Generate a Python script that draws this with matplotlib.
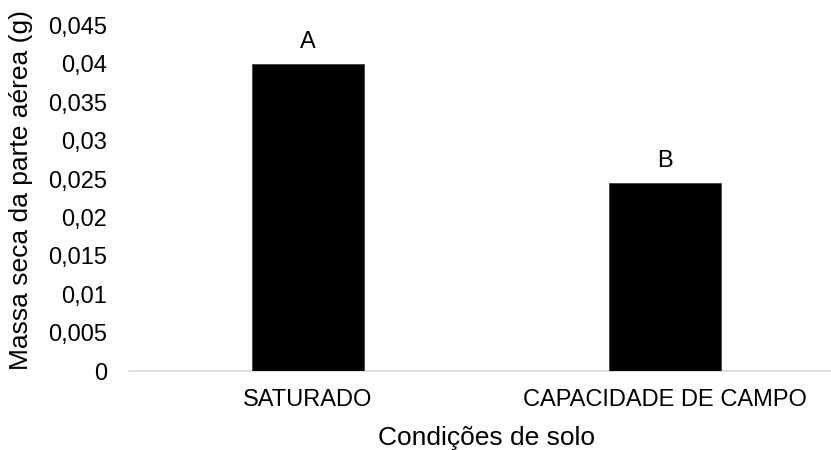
import matplotlib
matplotlib.use("Agg")
import matplotlib.pyplot as plt
from matplotlib.ticker import FuncFormatter

plt.rcParams['font.family'] = ['Liberation Sans', 'DejaVu Sans']

# Dados: massa seca da parte aérea por condição de solo
condicoes = ["SATURADO", "CAPACIDADE DE CAMPO"]
massa_seca = [0.04, 0.0245]
letras = ["A", "B"]
y_ticks = [0, 0.005, 0.01, 0.015, 0.02, 0.025, 0.03, 0.035, 0.04, 0.045]

W, H = 831, 450
fig = plt.figure(figsize=(W / 100, H / 100), dpi=100)
# área do gráfico (cortada à direita)
ax = fig.add_axes([129 / W, (H - 371) / H, (W - 129) / W, (371 - 25.5) / H])

x = list(range(len(condicoes)))
ax.bar(x, massa_seca, width=0.314, color="black", edgecolor="#404040", linewidth=0.6, zorder=3)

# letras de significância acima das barras
for xi, v, letra in zip(x, massa_seca, letras):
    ax.annotate(letra, (xi, v), xytext=(0, 16), textcoords="offset points",
                ha="center", va="center", fontsize=17)

ax.set_xlim(-0.5, 1 + (W - 665) / 357)
ax.set_ylim(0, 0.045)
ax.set_yticks(y_ticks)
ax.yaxis.set_major_formatter(FuncFormatter(lambda v, p: ("%g" % round(v, 4)).replace(".", ",")))
ax.set_xticks(x)
ax.set_xticklabels(condicoes)

ax.tick_params(axis="both", length=0, labelsize=17, colors="black")
ax.tick_params(axis="y", pad=16)
ax.tick_params(axis="x", pad=13)

for s in ["left", "right", "top"]:
    ax.spines[s].set_visible(False)
ax.spines["bottom"].set_color("#d9d9d9")
ax.spines["bottom"].set_linewidth(1.2)

fig.text(21 / W, 1 - 190 / H, "Massa seca da parte aérea (g)", rotation=90,
         ha="center", va="center", fontsize=19)
fig.text(486 / W, 1 - 438 / H, "Condições de solo", ha="center", va="center", fontsize=19)

fig.savefig("out.png", dpi=100)
